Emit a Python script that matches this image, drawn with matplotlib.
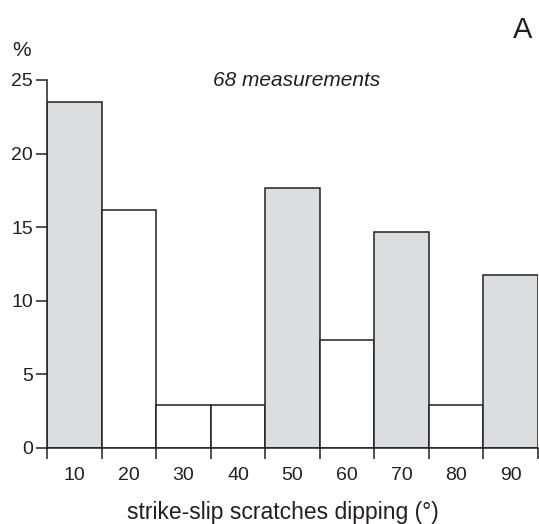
import numpy as np
import matplotlib.pyplot as plt

plt.rcParams['font.family'] = ['Liberation Sans', 'DejaVu Sans']

bin_edges = [0, 10, 20, 30, 40, 50, 60, 70, 80, 90]
counts = [16, 11, 2, 2, 12, 5, 10, 2, 8]   # out of 68
n_total = 68
shaded = [True, False, False, False, True, False, True, False, True]
tick_labels = ['10', '20', '30', '40', '50', '60', '70', '80', '90']

percent = np.array(counts) / n_total * 100
line_col = '#231f20'
gray = '#dcdddf'

fig = plt.figure(figsize=(5.39, 5.24), dpi=100)
ax = fig.add_axes([47 / 539, 1 - 448 / 524, 491 / 539, 368 / 524])

lefts = np.array(bin_edges[:-1])
colors = [gray if s else 'white' for s in shaded]
ax.bar(lefts, percent, width=10, align='edge', color=colors,
       edgecolor=line_col, linewidth=1.1, zorder=2)

ax.set_xlim(0, 90)
ax.set_ylim(0, 25)

for side in ['top', 'right']:
    ax.spines[side].set_visible(False)
for side in ['left', 'bottom']:
    ax.spines[side].set_color(line_col)
    ax.spines[side].set_linewidth(1.1)
ax.spines['left'].set_bounds(0, 25)

ax.set_yticks([0, 5, 10, 15, 20, 25])
ax.tick_params(axis='y', length=8, width=1.1, color=line_col,
               labelsize=14, pad=2, labelcolor=line_col)

# ticks on bin edges, labels at bin centres
ax.set_xticks(bin_edges)
ax.set_xticklabels([])
ax.set_xticks(lefts + 5, minor=True)
ax.set_xticklabels(tick_labels, minor=True)
ax.tick_params(axis='x', which='major', length=8, width=1.1, color=line_col)
ax.tick_params(axis='x', which='minor', length=0, labelsize=14, pad=14,
               labelcolor=line_col)

fig.text(283 / 539, 1 - 512 / 524, 'strike-slip scratches dipping (°)',
         fontsize=16.5, color=line_col, ha='center', va='center')
fig.text(22 / 539, 1 - 50 / 524, '%', fontsize=15, color=line_col,
         ha='center', va='center')
fig.text(297 / 539, 1 - 80 / 524, f'{n_total} measurements', fontsize=15,
         style='italic', color=line_col, ha='center', va='center')
fig.text(523 / 539, 1 - 30 / 524, 'A', fontsize=21, color=line_col,
         ha='center', va='center')

fig.savefig('out.png', dpi=100)
